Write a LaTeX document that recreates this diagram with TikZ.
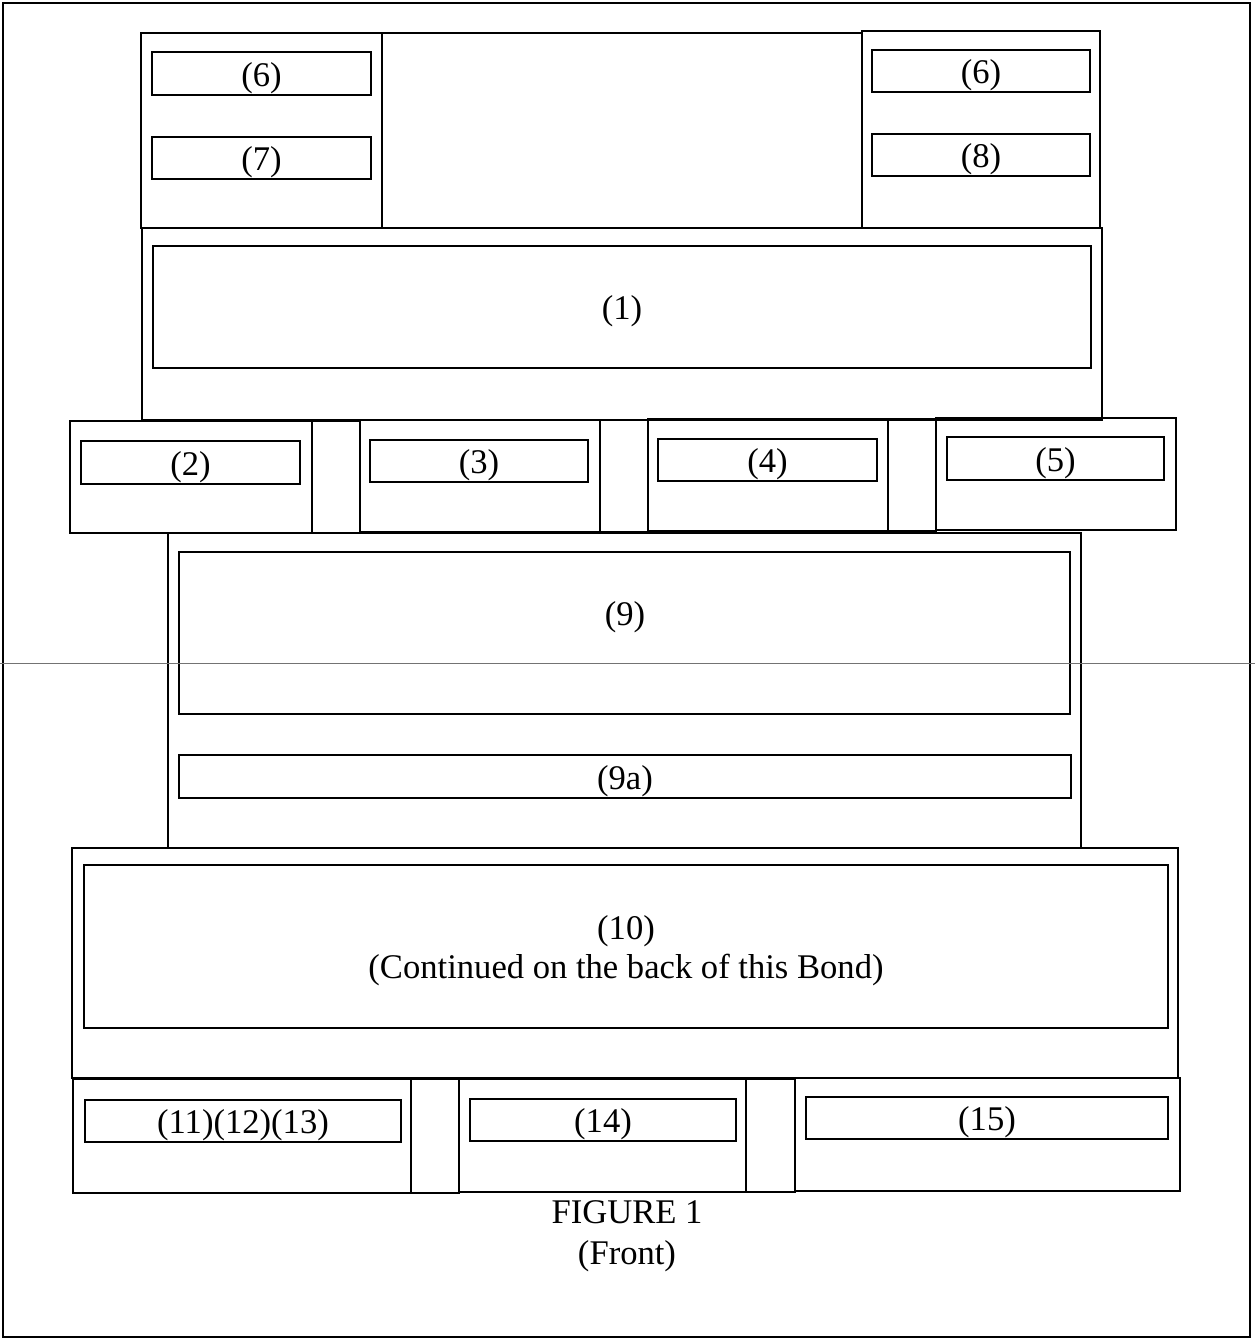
\documentclass[tikz,border=0pt]{standalone}
\usepackage{fontspec}
\setmainfont{Liberation Serif}
\newcommand\bx[6]{\node[box, minimum width={(#4-#2)*0.5pt}, minimum height={(#5-#3)*0.5pt}] (#1) at ({(#2+#4)/2},{(#3+#5)/2}) {};
  \node[lbl] (#1t) at (#1.center) {#6};}
\begin{document}
\begin{tikzpicture}[x=0.5pt,y=-0.5pt,
  box/.style={draw=black, line width=1.1pt, inner sep=0pt, outer sep=0pt},
  lbl/.style={inner sep=0pt, align=center, font=\fontsize{17.3}{19.5}\selectfont, yshift=-2.3pt},
  scanline/.style={draw=black!55, line width=0.5pt}]
\useasboundingbox (0,0) rectangle (1255,1340);
% outer frame
\bx{frame}{3}{3}{1250}{1337}{}
% top block
\bx{topL}{141}{33}{382}{228}{}
\bx{topM}{382}{33}{862}{228}{}
\bx{topR}{862}{31}{1100}{228}{}
\bx{b6a}{152}{52}{371}{95}{(6)}
\bx{b7}{152}{137}{371}{179}{(7)}
\bx{b6b}{872}{50}{1090}{92}{(6)}
\bx{b8}{872}{134}{1090}{176}{(8)}
% block 1
\bx{blk1}{142}{228}{1102}{420}{}
\bx{b1}{153}{246}{1091}{368}{(1)}
% row 2
\bx{c2}{70}{421}{312}{533}{}
\bx{g23}{312}{421}{360}{533}{}
\bx{c3}{360}{420}{600}{532}{}
\bx{g34}{600}{420}{648}{532}{}
\bx{c4}{648}{419}{888}{531}{}
\bx{g45}{888}{419}{936}{531}{}
\bx{c5}{936}{418}{1176}{530}{}
\bx{b2}{81}{441}{300}{484}{(2)}
\bx{b3}{370}{440}{588}{482}{(3)}
\bx{b4}{658}{439}{877}{481}{(4)}
\bx{b5}{947}{437}{1164}{480}{(5)}
% block 9
\bx{blk9}{168}{533}{1081}{848}{}
\bx{b9}{179}{552}{1070}{714}{}
\node[lbl] (t9) at (625,613) {(9)};
\bx{b9a}{179}{755}{1071}{798}{(9a)}
% block 10
\bx{blk10}{72}{848}{1178}{1078}{}
\bx{b10}{84}{865}{1168}{1028}{(10)\\(Continued on the back of this Bond)}
% bottom row
\bx{c11}{73}{1079}{411}{1193}{}
\bx{g1114}{411}{1079}{459}{1193}{}
\bx{c14}{459}{1079}{746}{1192}{}
\bx{g1415}{746}{1079}{795}{1192}{}
\bx{c15}{795}{1078}{1180}{1191}{}
\bx{b11}{85}{1100}{401}{1142}{(11)(12)(13)}
\bx{b14}{470}{1099}{736}{1141}{(14)}
\bx{b15}{806}{1097}{1168}{1139}{(15)}
% caption
\node[lbl] (cap) at (627,1232) {FIGURE 1\\[1pt](Front)};
% scan artifact line
\coordinate (sl) at (0,663);
\coordinate (sr) at (1255,663);
\draw[scanline] (sl) -- (sr);
\end{tikzpicture}
\end{document}
